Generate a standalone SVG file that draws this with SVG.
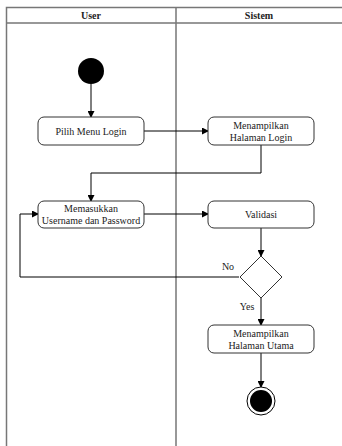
<svg xmlns="http://www.w3.org/2000/svg" width="342" height="446" viewBox="0 0 342 446">
<style>
.lane{fill:none;stroke:#777;stroke-width:1.5}
.node{fill:#fff;stroke:#333;stroke-width:1}
.t{font-family:"Liberation Serif",serif;font-size:10px;fill:#222;text-anchor:middle}
.h{font-family:"Liberation Serif",serif;font-size:10px;font-weight:bold;fill:#222;text-anchor:middle}
.c{fill:none;stroke:#000;stroke-width:1;marker-end:url(#a)}
</style>
<defs>
<marker id="a" markerWidth="7" markerHeight="7" refX="6" refY="3.5" orient="auto" markerUnits="userSpaceOnUse">
<path d="M0,0 L7,3.5 L0,7 Z" fill="#000"/>
</marker>
</defs>
<rect width="342" height="446" fill="#fff"/>
<g id="lanes">
<path class="lane" d="M342,7.5 H6.5 V446 M6.5,23 H342 M176,7.5 V446"/>
<text class="h" x="91" y="18.5">User</text>
<text class="h" x="259" y="18.5">Sistem</text>
</g>
<g id="connectors">
<path class="c" d="M91,84 V117"/>
<path class="c" d="M144,131 H208"/>
<path class="c" d="M261,145 V173 H91 V201"/>
<path class="c" d="M144,214 H208"/>
<path class="c" d="M261,228 V256"/>
<path class="c" d="M239,277 H20 V214 H38"/>
<path class="c" d="M261,298 V325"/>
<path class="c" d="M261,353 V387"/>
<text class="t" x="228" y="270">No</text>
<text class="t" x="247" y="310">Yes</text>
</g>
<g id="start"><circle cx="91" cy="71" r="13" fill="#000"/></g>
<g id="pilih"><rect class="node" x="38" y="117" width="106" height="28" rx="6"/><text class="t" x="91" y="134.5">Pilih Menu Login</text></g>
<g id="tampilLogin"><rect class="node" x="208" y="117" width="106" height="28" rx="6"/><text class="t" x="261" y="129">Menampilkan</text><text class="t" x="261" y="141">Halaman Login</text></g>
<g id="masukkan"><rect class="node" x="38" y="201" width="106" height="27" rx="6"/><text class="t" x="91" y="212">Memasukkan</text><text class="t" x="91" y="224">Username dan Password</text></g>
<g id="validasi"><rect class="node" x="208" y="201" width="106" height="27" rx="6"/><text class="t" x="261" y="218">Validasi</text></g>
<g id="decision"><path class="node" d="M261,256 L282,277 L261,298 L240,277 Z"/></g>
<g id="tampilUtama"><rect class="node" x="208" y="325" width="106" height="28" rx="6"/><text class="t" x="261" y="337">Menampilkan</text><text class="t" x="261" y="349">Halaman Utama</text></g>
<g id="end"><circle cx="261" cy="401" r="14" fill="#fff" stroke="#000" stroke-width="1"/><circle cx="261" cy="401" r="11" fill="#000"/></g>
</svg>
